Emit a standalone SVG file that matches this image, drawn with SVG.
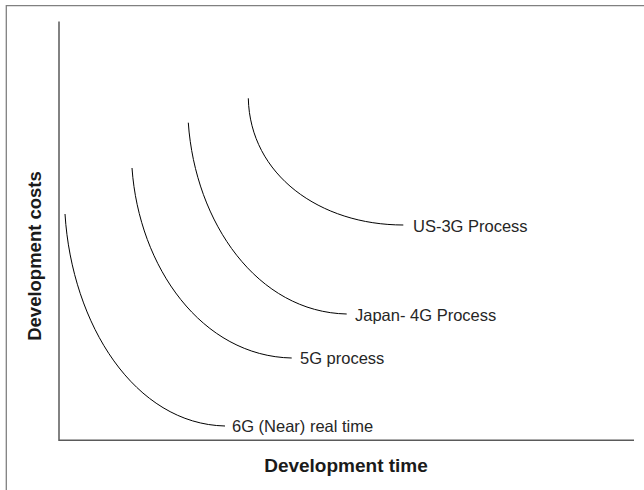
<svg xmlns="http://www.w3.org/2000/svg" width="644" height="490" viewBox="0 0 644 490">
<style>
.frame{fill:none;stroke:#808080;stroke-width:1.3}
.axis{fill:none;stroke:#5a5a5a;stroke-width:1.5}
.curve{fill:none;stroke:#000;stroke-width:1}
.lbl{font-family:"Liberation Sans",Arial,sans-serif;font-size:16.5px;fill:#262626}
.ttl{font-family:"Liberation Sans",Arial,sans-serif;font-weight:bold;fill:#1a1a1a}
</style>
<rect width="644" height="490" fill="#fff"/>
<path class="frame" d="M6.3,500 V5.7 H660"/>
<g id="axes">
<path class="axis" d="M59,21.5 V440.3 H634"/>
<text class="ttl" x="346" y="471.5" text-anchor="middle" font-size="19">Development time</text>
<text class="ttl" transform="translate(41,256) rotate(-90)" text-anchor="middle" font-size="18.5">Development costs</text>
</g>
<g id="connectors">
<path class="curve" d="M65,214 C72,325 135,424 225,426"/>
<path class="curve" d="M132,168 C139,267.5 202,356.2 291.7,358"/>
<path class="curve" d="M188.3,122.7 C195.2,222.9 257.6,312.2 346.7,314"/>
<path class="curve" d="M248.3,98.3 C250,175 320,225 403.3,225"/>
</g>
<g id="node-6g"><text class="lbl" x="232" y="432">6G (Near) real time</text></g>
<g id="node-5g"><text class="lbl" x="300" y="364">5G process</text></g>
<g id="node-4g"><text class="lbl" x="355" y="320.5">Japan- 4G Process</text></g>
<g id="node-3g"><text class="lbl" x="413" y="232">US-3G Process</text></g>
</svg>
